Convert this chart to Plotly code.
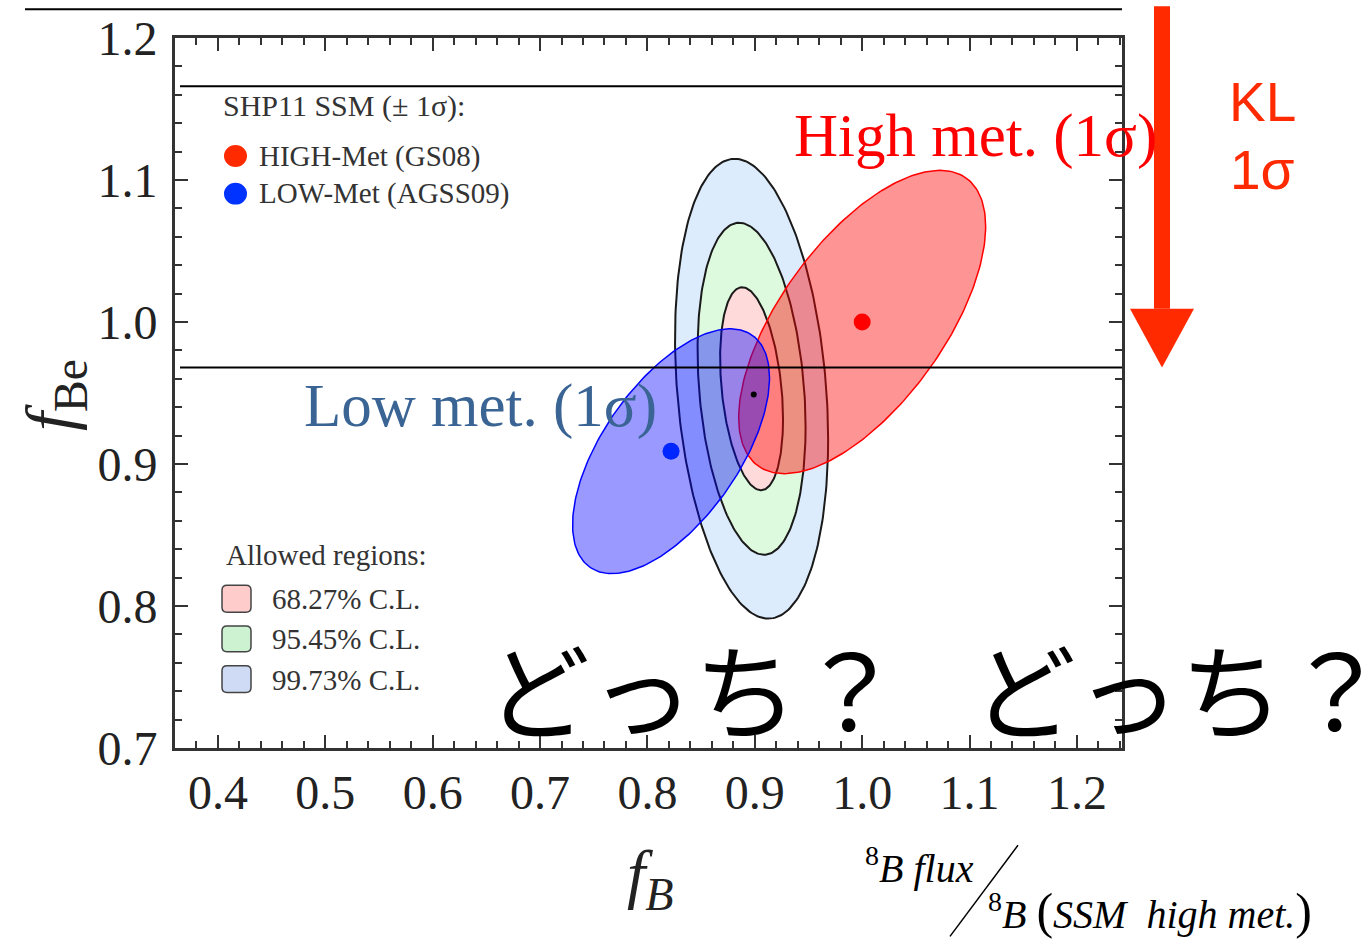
import numpy as np
import plotly.graph_objects as go

# ---- data -------------------------------------------------------------
x_ticks = [0.4, 0.5, 0.6, 0.7, 0.8, 0.9, 1.0, 1.1, 1.2]
y_ticks = [0.7, 0.8, 0.9, 1.0, 1.1, 1.2]
x_range = [0.36, 1.242]
y_range = [0.7, 1.2]

# allowed regions of the global fit (outer to inner)
cl_labels = ["99.73% C.L.", "95.45% C.L.", "68.27% C.L."]
cl_half_x = [0.0713, 0.0503, 0.0293]
cl_half_y = [0.1619, 0.1169, 0.0715]
cl_rho = [-0.22, -0.23, -0.30]
cl_fill = ["#dcecfc", "#defade", "#ffdada"]
cl_center = [0.897, 0.953]
best_fit = [0.899, 0.949]

# SHP11 standard solar model predictions (±1σ)
ssm_labels = ["HIGH-Met (GS08)", "LOW-Met (AGSS09)"]
ssm_x = [1.0, 0.822]
ssm_y = [1.0, 0.909]
ssm_half_x = [0.115, 0.0917]
ssm_half_y = [0.1068, 0.0862]
ssm_rho = [0.63, 0.60]
ssm_fill = ["rgba(255,0,0,0.42)", "rgba(0,0,255,0.40)"]
ssm_line = ["#ff0000", "#0000ff"]
ssm_dot = ["#ff0000", "#0026ff"]

# KamLAND 1σ band on f_Be
kl_band = [0.968, 1.166]

# ---- geometry helpers ---------------------------------------------------
W, H = 1367, 940
L, R, T, B = 175, 1122, 32, 748


def px(x):
    return (x - L) / (R - L)


def py(y):
    return (B - y) / (B - T)


def ellipse(cx, cy, hx, hy, rho, n=241):
    t = np.linspace(0, 2 * np.pi, n)
    x = cx + hx * np.cos(t)
    y = cy + hy * (rho * np.cos(t) + np.sqrt(1 - rho ** 2) * np.sin(t))
    return x, y


def rounded_box(x0, y0, x1, y1, r):
    # rounded rectangle path in paper units, corners given in pixels
    pts = [
        f"M {px(x0 + r)} {py(y0)}", f"L {px(x1 - r)} {py(y0)}",
        f"Q {px(x1)} {py(y0)} {px(x1)} {py(y0 + r)}", f"L {px(x1)} {py(y1 - r)}",
        f"Q {px(x1)} {py(y1)} {px(x1 - r)} {py(y1)}", f"L {px(x0 + r)} {py(y1)}",
        f"Q {px(x0)} {py(y1)} {px(x0)} {py(y1 - r)}", f"L {px(x0)} {py(y0 + r)}",
        f"Q {px(x0)} {py(y0)} {px(x0 + r)} {py(y0)}", "Z",
    ]
    return " ".join(pts)


SERIF = "Liberation Serif"
SANS = "Liberation Sans"
CJK = "Noto Sans CJK JP"

fig = go.Figure()

for lab, hx, hy, rho, col in zip(cl_labels, cl_half_x, cl_half_y, cl_rho, cl_fill):
    ex, ey = ellipse(cl_center[0], cl_center[1], hx, hy, rho)
    fig.add_trace(go.Scatter(x=ex, y=ey, mode="lines", fill="toself", fillcolor=col,
                             line=dict(color="#1a1a1a", width=2), name=lab,
                             hoverinfo="skip", showlegend=False))

for i in range(len(ssm_labels)):
    ex, ey = ellipse(ssm_x[i], ssm_y[i], ssm_half_x[i], ssm_half_y[i], ssm_rho[i])
    fig.add_trace(go.Scatter(x=ex, y=ey, mode="lines", fill="toself", fillcolor=ssm_fill[i],
                             line=dict(color=ssm_line[i], width=1.5), name=ssm_labels[i],
                             hoverinfo="skip", showlegend=False))

fig.add_trace(go.Scatter(x=ssm_x, y=ssm_y, mode="markers",
                         marker=dict(size=17, color=ssm_dot), showlegend=False))
fig.add_trace(go.Scatter(x=[best_fit[0]], y=[best_fit[1]], mode="markers",
                         marker=dict(size=6, color="black"), showlegend=False))

axis_common = dict(
    showline=True, linewidth=3, linecolor="#333", mirror="allticks",
    ticks="inside", ticklen=13, tickwidth=2, tickcolor="#333",
    showgrid=False, zeroline=False,
    tickfont=dict(family=SERIF, size=48, color="#222"),
    minor=dict(ticks="inside", ticklen=7, tickwidth=2, tickcolor="#333",
               dtick=0.02, showgrid=False),
)

fig.update_layout(
    width=W, height=H, autosize=False,
    margin=dict(l=L, r=W - R, t=T, b=H - B),
    paper_bgcolor="white", plot_bgcolor="white",
    xaxis=dict(range=x_range, tickvals=x_ticks, ticktext=[f"{v:.1f}" for v in x_ticks],
               ticklabelstandoff=0, **axis_common),
    yaxis=dict(range=y_range, tickvals=y_ticks, ticktext=[f"{v:.1f}" for v in y_ticks],
               ticklabelstandoff=5, **axis_common),
)
fig.update_xaxes(minor_tick0=0.4)
fig.update_yaxes(minor_tick0=0.7)

shapes = []
# KamLAND band edges
for v in kl_band:
    shapes.append(dict(type="line", xref="paper", yref="y", x0=px(180), x1=1.0, y0=v, y1=v,
                       line=dict(color="black", width=2)))
# rule across the top
shapes.append(dict(type="line", xref="paper", yref="paper", x0=px(25), x1=1.0,
                   y0=py(3), y1=py(3), line=dict(color="black", width=2)))
# KL arrow: shaft and head, tip on the lower band edge
kl_tip = (kl_band[0] - y_range[0]) / (y_range[1] - y_range[0])
shapes.append(dict(type="rect", xref="paper", yref="paper", x0=px(1154), x1=px(1170),
                   y0=py(0), y1=py(305), fillcolor="#ff2a00", line=dict(width=0)))
shapes.append(dict(type="path", xref="paper", yref="paper",
                   path=f"M {px(1130)} {py(305)} L {px(1194)} {py(305)} L {px(1162)} {kl_tip} Z",
                   fillcolor="#ff2a00", line=dict(width=0)))
# legend markers
for yc, col in zip([151, 189], ["#ff2a00", "#0033ff"]):
    shapes.append(dict(type="circle", xref="paper", yref="paper",
                       x0=px(224), x1=px(247), y0=py(yc + 11), y1=py(yc - 11),
                       fillcolor=col, line=dict(width=0)))
for (y0, y1), col in zip([(584, 611), (625, 651), (665, 692)],
                         ["#ffcccc", "#ccf2d2", "#cfdaf5"]):
    shapes.append(dict(type="path", xref="paper", yref="paper",
                       path=rounded_box(222, y0, 251, y1, 5),
                       fillcolor=col, line=dict(color="#444", width=1.5)))
# fraction slash
shapes.append(dict(type="line", xref="paper", yref="paper", x0=px(950), x1=px(1018),
                   y0=py(938), y1=py(846), line=dict(color="black", width=1.5)))
fig.update_layout(shapes=shapes)


def note(text, x, y, size, color="#333", family=SERIF, xanchor="left", angle=0):
    fig.add_annotation(text=text, xref="paper", yref="paper", x=px(x), y=py(y),
                       xanchor=xanchor, yanchor="middle", showarrow=False, textangle=angle,
                       font=dict(family=family, size=size, color=color))


note("SHP11 SSM (± 1σ):", 221, 101, 30)
note(ssm_labels[0], 257, 151, 29)
note(ssm_labels[1], 257, 189, 29)
note("Allowed regions:", 224, 553, 29)
for lab, yc in zip(["68.27% C.L.", "95.45% C.L.", "99.73% C.L."], [598, 638, 679]):
    note(lab, 270, yc, 29)

note("High met. (1σ)", 792, 131, 61, color="#ff0000")
note("Low met. (1σ)", 302, 403, 61, color="#3a6494")
note("KL", 1262, 97, 55, color="#ff2a00", family=SANS, xanchor="center")
note("1σ", 1262, 165, 55, color="#ff2a00", family=SANS, xanchor="center")
note("どっち？", 484, 686, 104, color="black", family=CJK)
note("どっち？", 970, 686, 104, color="black", family=CJK)

note("<i>f</i><sub><i>B</i></sub>", 650, 880, 66, color="#222", xanchor="center")
note("<i>f</i><sub>Be</sub>", 55, 392, 68, color="#222", xanchor="center", angle=-90)

note("<sup>8</sup><i>B flux</i>", 863, 866, 40, color="black")
note("<sup>8</sup><i>B</i> <span style='font-size:50px'>(</span><i>SSM  high met.</i>"
     "<span style='font-size:50px'>)</span>", 986, 912, 40, color="black")

fig.write_html("out.html")
